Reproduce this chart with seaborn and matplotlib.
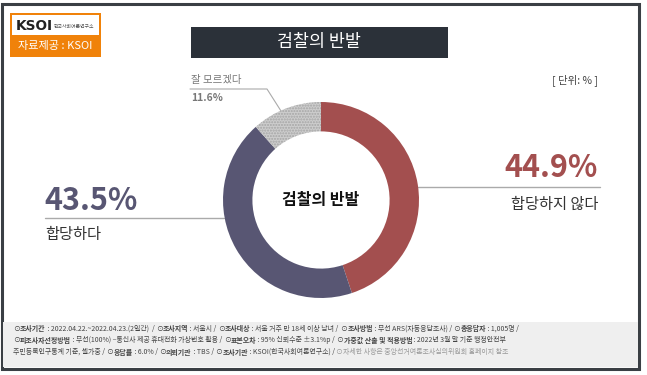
import matplotlib
matplotlib.use("Agg")
import matplotlib.pyplot as plt
import matplotlib.patches as mpatches
import seaborn as sns

# 데이터
labels = ["합당하지 않다", "합당하다", "잘 모르겠다"]
values = [44.9, 43.5, 11.6]
colors = ["#A34F4F", "#585673", "#CDCDCD"]
title = "검찰의 반발"
unit_text = "[ 단위: % ]"

footer_lines = [
    [("⊙", 0), ("조사기간", 1), (" : 2022.04.22.~2022.04.23.(2일간)  / ", 0), ("⊙", 0), ("조사지역", 1),
     (" : 서울시 / ", 0), ("⊙", 0), ("조사대상", 1), (" : 서울 거주 만 18세 이상 남녀 / ", 0), ("⊙", 0),
     ("조사방법", 1), (" : 무선 ARS(자동응답조사) / ", 0), ("⊙", 0), ("총응답자", 1), (" : 1,005명 /", 0)],
    [("⊙", 0), ("피조사자선정방법", 1), (" : 무선(100%) –통신사 제공 휴대전화 가상번호 활용 / ", 0), ("⊙", 0),
     ("표본오차", 1), (" : 95% 신뢰수준 ±3.1%p / ", 0), ("⊙", 0), ("가중값 산출 및 적용방법", 1),
     (" : 2022년 3월 말 기준 행정안전부", 0)],
    [("주민등록인구통계 기준, 셀가중 / ", 0), ("⊙", 0), ("응답률", 1), (" : 6.0% / ", 0), ("⊙", 0),
     ("의뢰기관", 1), (" : TBS / ", 0), ("⊙", 0), ("조사기관", 1), (" : KSOI(한국사회여론연구소) / ", 0),
     ("⊙자세한 사항은 중앙선거여론조사심의위원회 홈페이지 참조", 2)],
]

sns.set_theme(style="white")
plt.rcParams["font.family"] = ["Noto Sans CJK KR", "DejaVu Sans"]

W, H = 647, 375
fig = plt.figure(figsize=(W / 100, H / 100), dpi=100)

# 픽셀 좌표용 배경 축
bg = fig.add_axes([0, 0, 1, 1])
bg.set_xlim(0, W)
bg.set_ylim(H, 0)
bg.axis("off")

# 바깥 테두리와 하단 회색 띠
bg.add_patch(mpatches.Rectangle((2, 4), 637, 365, fill=False, ec="#3A3F44", lw=2.2))
bg.add_patch(mpatches.Rectangle((3, 322), 635, 45, fc="#EFEFEF", ec="none"))

# 로고
bg.add_patch(mpatches.Rectangle((10, 13), 91, 44, fc="#F0820A", ec="none"))
bg.add_patch(mpatches.Rectangle((12, 15), 87, 20, fc="white", ec="none"))
bg.text(16, 26, "KSOI", fontsize=9.8, fontweight="bold", color="#222222", va="center", family="DejaVu Sans")
bg.text(54, 27, "한국사회여론연구소", fontsize=3.5, color="#555555", va="center")
bg.text(55, 46, "자료제공 : KSOI", fontsize=8, color="white", ha="center", va="center")

# 제목 상자
bg.add_patch(mpatches.Rectangle((191, 27), 257, 31, fc="#2B3139", ec="none"))
bg.text(319, 42, title, fontsize=12.5, color="white", ha="center", va="center")

bg.text(598, 80, unit_text, fontsize=7.5, color="#444444", ha="right", va="center")

# 도넛
cx, cy, r = 321, 200, 98
pie_ax = fig.add_axes([(cx - r) / W, (H - cy - r) / H, 2 * r / W, 2 * r / H])
wedges, _ = pie_ax.pie(values, colors=colors, startangle=90, counterclock=False,
                       wedgeprops=dict(width=0.3, linewidth=0))
wedges[2].set_hatch("......")
wedges[2].set_edgecolor("#A5A5A5")
pie_ax.set_xlim(-1, 1)
pie_ax.set_ylim(-1, 1)
pie_ax.set_aspect("equal")
pie_ax.text(0, 0, title, fontsize=11.5, fontweight="bold", color="#111111", ha="center", va="center")

# 오른쪽 라벨
bg.plot([418, 600], [187, 187], color="#AAAAAA", lw=1)
bg.text(598, 168, f"{values[0]}%", fontsize=22, fontweight="bold", color=colors[0], ha="right", va="center")
bg.text(598, 204, labels[0], fontsize=11, color="#333333", ha="right", va="center")

# 왼쪽 라벨
bg.plot([45, 224], [218, 218], color="#AAAAAA", lw=1)
bg.text(44, 201, f"{values[1]}%", fontsize=22, fontweight="bold", color=colors[1], ha="left", va="center")
bg.text(45, 234, labels[1], fontsize=11, color="#333333", ha="left", va="center")

# 위쪽 라벨
bg.plot([190, 267, 281], [89, 89, 111], color="#AAAAAA", lw=0.8)
bg.text(191, 80, labels[2], fontsize=7.5, color="#777777", ha="left", va="center")
bg.text(191, 98, f"{values[2]}%", fontsize=7.5, fontweight="bold", color="#777777", ha="left", va="center")

# 하단 조사 개요 (굵기 섞어서 이어 쓰기)
renderer = fig.canvas.get_renderer()
inv = bg.transData.inverted()
ys = [329, 340, 352]
for segs, y in zip(footer_lines, ys):
    x = 13
    for txt, style in segs:
        t = bg.text(x, y, txt, fontsize=5.0, va="center", ha="left",
                    fontweight="bold" if style == 1 else "normal",
                    color="#999999" if style == 2 else "#444444")
        bb = t.get_window_extent(renderer=renderer)
        x = inv.transform((bb.x1, bb.y0))[0]

fig.savefig("out.png", dpi=100)
